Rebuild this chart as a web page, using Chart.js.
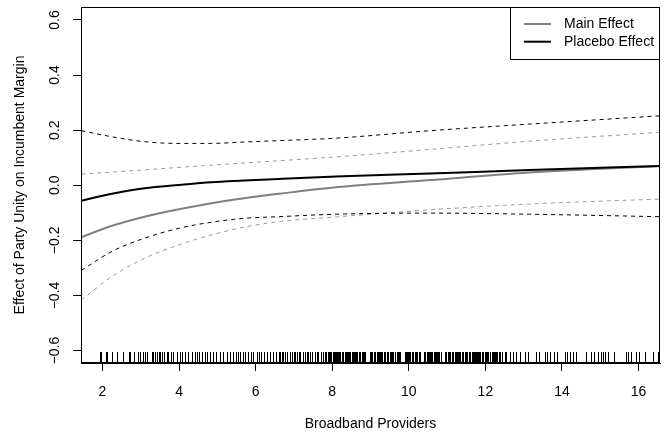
<!DOCTYPE html>
<html>
<head>
<meta charset="utf-8">
<script src="https://cdn.jsdelivr.net/npm/chart.js@4.4.1/dist/chart.umd.min.js"></script>
<style>
  html, body { margin: 0; padding: 0; background: #ffffff; }
  #wrap { width: 670px; height: 437px; }
</style>
</head>
<body>
<div id="wrap"><canvas id="chart" width="670" height="437"></canvas></div>
<script>
// Number of broadband providers at which the effects are evaluated
const providers = [1.45, 2.25, 3.1, 4.0, 4.85, 5.7, 6.6, 8.1, 10.55, 13.15, 16.55];

// Main effect and its confidence band
const mainEffect = [-0.188, -0.147, -0.114, -0.087, -0.065, -0.047, -0.031, -0.007, 0.019, 0.046, 0.070];
const mainUpper  = [0.041, 0.048, 0.056, 0.065, 0.073, 0.081, 0.089, 0.103, 0.130, 0.160, 0.192];
const mainLower  = [-0.416, -0.331, -0.265, -0.216, -0.180, -0.152, -0.132, -0.115, -0.089, -0.068, -0.050];

// Placebo effect and its confidence band
const placeboEffect = [-0.056, -0.031, -0.011, 0.001, 0.011, 0.017, 0.023, 0.032, 0.043, 0.055, 0.070];
const placeboUpper  = [0.198, 0.176, 0.158, 0.152, 0.152, 0.157, 0.162, 0.171, 0.198, 0.222, 0.252];
const placeboLower  = [-0.309, -0.240, -0.192, -0.156, -0.134, -0.120, -0.114, -0.105, -0.101, -0.105, -0.114];

// Axis ticks
const xTicks = [2, 4, 6, 8, 10, 12, 14, 16];
const yTicks = [-0.6, -0.4, -0.2, 0.0, 0.2, 0.4, 0.6];
const yTickLabels = ['\u22120.6', '\u22120.4', '\u22120.2', '0.0', '0.2', '0.4', '0.6'];

// Observed provider counts (rug along the x axis)
const rugProviders = [
  1.93, 1.97, 2.08, 2.12, 2.25, 2.38, 2.53, 2.69, 2.73, 2.82, 2.92, 2.99, 3.07, 3.12, 3.17,
  3.30, 3.33, 3.38, 3.43, 3.48, 3.51, 3.56, 3.62, 3.69, 3.72, 3.79, 3.85, 3.95, 4.02, 4.08,
  4.16, 4.24, 4.34, 4.43, 4.47, 4.53, 4.60, 4.67, 4.73, 4.82, 4.89, 4.97, 5.08, 5.16, 5.25,
  5.34, 5.42, 5.48, 5.55, 5.60, 5.66, 5.72, 5.80, 5.88, 5.94, 6.04, 6.10, 6.15, 6.22, 6.30,
  6.38, 6.45, 6.52, 6.60, 6.64, 6.68, 6.72, 6.77, 6.81, 6.90, 6.94, 6.99, 7.03, 7.08, 7.12,
  7.16, 7.25, 7.29, 7.34, 7.38, 7.42, 7.47, 7.55, 7.59, 7.63, 7.72, 7.76, 7.81, 7.85, 7.89,
  7.92, 7.94, 7.98, 8.03, 8.05, 8.07, 8.11, 8.13, 8.16, 8.18, 8.20, 8.25, 8.27, 8.29, 8.33,
  8.36, 8.38, 8.42, 8.45, 8.47, 8.51, 8.53, 8.56, 8.60, 8.62, 8.64, 8.69, 8.71, 8.73, 8.78,
  8.80, 8.82, 8.86, 8.99, 9.01, 9.03, 9.08, 9.10, 9.12, 9.16, 9.19, 9.21, 9.25, 9.28, 9.30,
  9.34, 9.36, 9.38, 9.43, 9.45, 9.47, 9.52, 9.54, 9.56, 9.60, 9.63, 9.65, 9.69, 9.72, 9.74,
  9.78, 9.90, 9.92, 9.95, 9.99, 10.01, 10.04, 10.08, 10.10, 10.12, 10.17, 10.19, 10.21, 10.26,
  10.28, 10.30, 10.39, 10.41, 10.43, 10.48, 10.50, 10.52, 10.56, 10.59, 10.61, 10.65, 10.68,
  10.70, 10.74, 10.76, 10.78, 10.83, 10.94, 10.96, 10.98, 11.03, 11.05, 11.07, 11.12, 11.14,
  11.16, 11.20, 11.23, 11.25, 11.29, 11.32, 11.34, 11.38, 11.40, 11.42, 11.47, 11.49, 11.51,
  11.56, 11.58, 11.60, 11.64, 11.67, 11.69, 11.73, 11.75, 11.78, 11.82, 11.84, 11.86, 11.91,
  11.93, 11.95, 12.00, 12.02, 12.04, 12.08, 12.11, 12.13, 12.17, 12.20, 12.22, 12.26, 12.28,
  12.30, 12.35, 12.37, 12.39, 12.44, 12.51, 12.55, 12.64, 12.73, 12.81, 12.90, 13.03, 13.12,
  13.32, 13.40, 13.55, 13.62, 13.70, 13.79, 13.87, 14.07, 14.13, 14.20, 14.29, 14.36, 14.62,
  14.77, 14.83, 14.93, 15.01, 15.07, 15.12, 15.20, 15.35, 15.66, 15.72, 15.79, 15.94, 16.00,
  16.18, 16.39, 16.52
];

const seriesLabels = ['Main Effect', 'Placebo Effect'];

const FONT = '"Liberation Sans", Arial, Helvetica, sans-serif';
const FONT_SIZE = 14;
const GRAY = '#808080';
const GRAY_DASH = '#9a9a9a';

function points(values) {
  return providers.map((x, i) => ({ x: x, y: values[i] }));
}

function lineSet(label, values, color, width, dash, order) {
  return {
    label: label,
    data: points(values),
    borderColor: color,
    borderWidth: width,
    borderDash: dash,
    pointRadius: 0,
    fill: false,
    cubicInterpolationMode: 'monotone',
    order: order
  };
}

// Frame around the plotting region
const framePlugin = {
  id: 'frame',
  afterDraw(chart) {
    const a = chart.chartArea, ctx = chart.ctx;
    ctx.save();
    ctx.strokeStyle = '#000';
    ctx.lineWidth = 1;
    ctx.strokeRect(a.left + 0.5, a.top + 0.5, a.right - a.left - 1, a.bottom - a.top - 1);
    ctx.restore();
  }
};

// Rug of observed values just above the x axis
const rugPlugin = {
  id: 'rug',
  afterDatasetsDraw(chart) {
    const xs = chart.scales.x, a = chart.chartArea, ctx = chart.ctx;
    ctx.save();
    ctx.strokeStyle = '#000';
    ctx.lineWidth = 1;
    ctx.beginPath();
    rugProviders.forEach(v => {
      const px = Math.round(xs.getPixelForValue(v)) + 0.5;
      ctx.moveTo(px, a.bottom);
      ctx.lineTo(px, a.bottom - 11);
    });
    ctx.stroke();
    ctx.restore();
  }
};

// Vertical y tick labels, reading bottom to top
const yLabelPlugin = {
  id: 'yLabels',
  afterDraw(chart) {
    const ys = chart.scales.y, a = chart.chartArea, ctx = chart.ctx;
    ctx.save();
    ctx.fillStyle = '#000';
    ctx.font = FONT_SIZE + 'px ' + FONT;
    ctx.textAlign = 'center';
    ctx.textBaseline = 'middle';
    yTicks.forEach((v, i) => {
      ctx.save();
      ctx.translate(a.left - 26, ys.getPixelForValue(v));
      ctx.rotate(-Math.PI / 2);
      ctx.fillText(yTickLabels[i], 0, 0);
      ctx.restore();
    });
    ctx.restore();
  }
};

// Boxed legend in the top-right corner
const legendPlugin = {
  id: 'boxLegend',
  afterDraw(chart) {
    const a = chart.chartArea, ctx = chart.ctx;
    const entries = [
      { label: seriesLabels[0], color: GRAY },
      { label: seriesLabels[1], color: '#000' }
    ];
    ctx.save();
    ctx.font = FONT_SIZE + 'px ' + FONT;
    const textW = Math.max(...entries.map(e => ctx.measureText(e.label).width));
    const boxW = 54 + textW + 6;
    const left = Math.round(a.right - boxW), top = a.top;
    const boxH = 52;
    ctx.fillStyle = '#fff';
    ctx.fillRect(left, top, a.right - left, boxH);
    ctx.strokeStyle = '#000';
    ctx.lineWidth = 1;
    ctx.strokeRect(left + 0.5, top + 0.5, a.right - left - 1, boxH);
    entries.forEach((e, i) => {
      const y = top + 17 + i * 17.7;
      ctx.strokeStyle = e.color;
      ctx.lineWidth = 2;
      ctx.beginPath();
      ctx.moveTo(left + 14, y);
      ctx.lineTo(left + 41, y);
      ctx.stroke();
      ctx.fillStyle = '#000';
      ctx.textAlign = 'left';
      ctx.textBaseline = 'middle';
      ctx.fillText(e.label, left + 54, y);
    });
    ctx.restore();
  }
};

new Chart(document.getElementById('chart'), {
  type: 'line',
  data: {
    datasets: [
      lineSet(seriesLabels[1], placeboEffect, '#000', 2, [], 0),
      lineSet('Placebo upper', placeboUpper, '#000', 1, [4, 4], 1),
      lineSet('Placebo lower', placeboLower, '#000', 1, [4, 4], 1),
      lineSet(seriesLabels[0], mainEffect, GRAY, 2, [], 2),
      lineSet('Main upper', mainUpper, GRAY_DASH, 1, [4, 4], 3),
      lineSet('Main lower', mainLower, GRAY_DASH, 1, [4, 4], 3)
    ]
  },
  options: {
    responsive: false,
    animation: false,
    events: [],
    layout: { padding: { left: 0, top: 7, right: 10, bottom: 0 } },
    plugins: {
      legend: { display: false },
      tooltip: { enabled: false }
    },
    scales: {
      x: {
        type: 'linear',
        min: 1.44,
        max: 16.56,
        afterBuildTicks(scale) { scale.ticks = xTicks.map(v => ({ value: v })); },
        afterFit(scale) { scale.height = 74; },
        grid: { drawOnChartArea: false, drawTicks: true, tickLength: 8, color: '#000', lineWidth: 1 },
        border: { display: true, color: '#000', width: 1 },
        ticks: {
          color: '#000',
          font: { family: FONT, size: FONT_SIZE },
          padding: 13,
          maxRotation: 0,
          autoSkip: false,
          callback: v => String(v)
        },
        title: {
          display: true,
          text: 'Broadband Providers',
          color: '#000',
          font: { family: FONT, size: FONT_SIZE },
          padding: { top: 0, bottom: 4 }
        }
      },
      y: {
        type: 'linear',
        min: -0.645,
        max: 0.647,
        afterBuildTicks(scale) { scale.ticks = yTicks.map(v => ({ value: v })); },
        afterFit(scale) { scale.width = 81; },
        grid: { drawOnChartArea: false, drawTicks: true, tickLength: 8, color: '#000', lineWidth: 1 },
        border: { display: true, color: '#000', width: 1 },
        ticks: { display: false },
        title: {
          display: true,
          text: 'Effect of Party Unity on Incumbent Margin',
          color: '#000',
          font: { family: FONT, size: FONT_SIZE },
          padding: { top: 12, bottom: 0 }
        }
      }
    }
  },
  plugins: [framePlugin, rugPlugin, yLabelPlugin, legendPlugin]
});
</script>
</body>
</html>
